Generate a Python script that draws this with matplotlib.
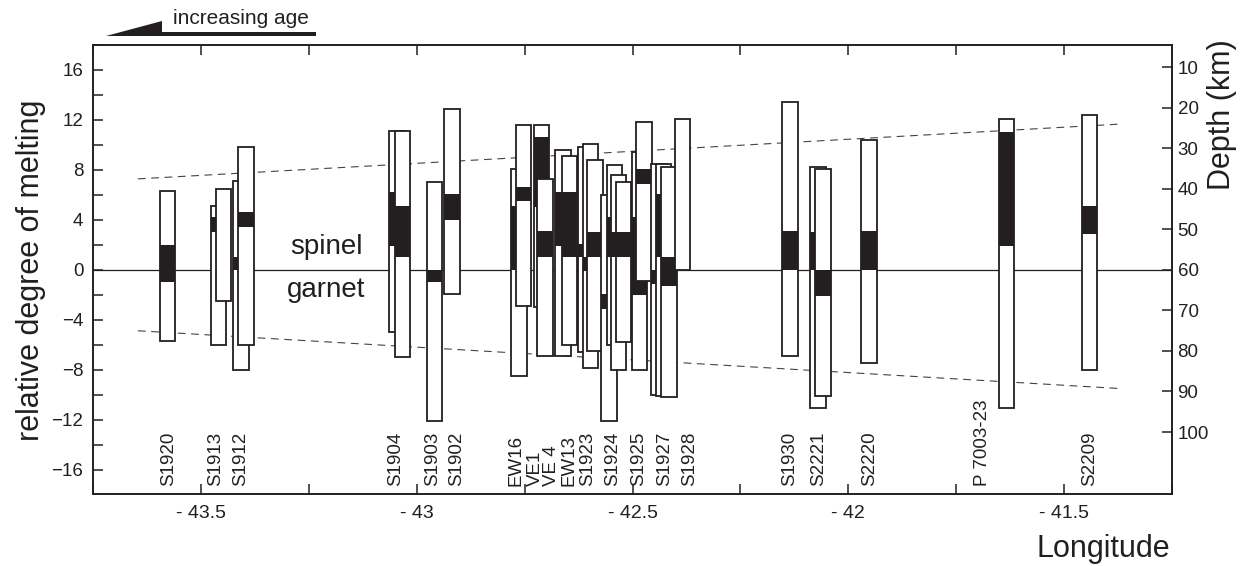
import numpy as np
import matplotlib
matplotlib.use('Agg')
import matplotlib.pyplot as plt
from matplotlib.patches import Polygon
from matplotlib.ticker import MultipleLocator, FuncFormatter

plt.rcParams['font.family'] = ['Liberation Sans', 'DejaVu Sans']

# bars: longitude, full range (top/bottom) and black segment (top/bottom)
lon = [-43.577, -43.459, -43.448, -43.407, -43.396,
       -43.046, -43.033, -42.959, -42.918,
       -42.763, -42.753, -42.711, -42.703, -42.661, -42.646,
       -42.609, -42.597, -42.587, -42.554, -42.542, -42.532, -42.521,
       -42.484, -42.473, -42.439, -42.428, -42.415, -42.384,
       -42.135, -42.070, -42.058, -41.952, -41.633, -41.441]
bar_top = [6.3, 5.1, 6.5, 7.1, 9.8,
           11.1, 11.1, 7.0, 12.9,
           8.1, 11.6, 11.6, 7.3, 9.6, 9.1,
           9.8, 10.1, 8.8, 6.0, 8.4, 7.6, 7.0,
           9.4, 11.8, 8.5, 8.5, 8.2, 12.1,
           13.4, 8.2, 8.1, 10.4, 12.1, 12.4]
bar_bot = [-5.7, -6.0, -2.5, -8.0, -6.0,
           -5.0, -7.0, -12.1, -1.9,
           -8.5, -2.9, -3.0, -6.9, -6.9, -6.0,
           -6.6, -7.9, -6.5, -12.1, -6.0, -8.0, -5.8,
           -8.0, -0.9, -10.0, -10.1, -10.2, 0.0,
           -6.9, -11.1, -10.1, -7.5, -11.1, -8.0]
blk_top = [2.0, 4.2, np.nan, 1.0, 4.6,
           6.2, 5.1, 0.0, 6.1,
           5.1, 6.6, 10.6, 3.1, 6.2, 6.2,
           2.1, 1.0, 3.0, -1.9, 4.2, 3.0, 3.0,
           4.2, 8.1, 0.0, 6.1, 1.0, np.nan,
           3.1, 3.0, 0.0, 3.1, 11.0, 5.1]
blk_bot = [-1.0, 3.0, np.nan, 0.0, 3.4,
           1.9, 1.0, -1.0, 4.0,
           0.0, 5.5, 5.0, 1.0, 1.9, 1.0,
           1.0, -0.1, 1.0, -3.1, 1.0, 1.0, 1.0,
           -2.0, 6.9, -1.1, 1.0, -1.3, np.nan,
           0.0, 0.0, -2.1, 0.0, 1.9, 2.9]

# sample names along the bottom
names = ['S1920', 'S1913', 'S1912', 'S1904', 'S1903', 'S1902',
         'EW16', 'VE1', 'VE 4', 'EW13', 'S1923', 'S1924', 'S1925',
         'S1927', 'S1928', 'S1930', 'S2221', 'S2220', 'P 7003-23', 'S2209']
name_lon = [-43.574, -43.465, -43.409, -43.048, -42.962, -42.907,
            -42.770, -42.726, -42.687, -42.647, -42.603, -42.545, -42.487,
            -42.425, -42.367, -42.135, -42.068, -41.950, -41.688, -41.440]

# dashed envelope lines
env_lon = [-43.646, -41.364]
env_upper = [7.28, 11.68]
env_lower = [-4.88, -9.52]

depth_at_zero = 60.0   # km at the spinel/garnet line
km_per_unit = 3.08
depth_ticks = [10, 20, 30, 40, 50, 60, 70, 80, 90, 100]

dark = '#231f20'
W, H = 1241, 566
fig = plt.figure(figsize=(W/100., H/100.), dpi=100)
ax = fig.add_axes([93./W, 1-494./H, (1172-93.)/W, (494-45.)/H])
ax.set_xlim(-43.75, -41.25)
ax.set_ylim(-17.95, 18.0)

ax.axhline(0, color=dark, linewidth=0.9, zorder=1)
ax.plot(env_lon, env_upper, color='#444444', linewidth=0.8, dashes=(7, 5), zorder=1)
ax.plot(env_lon, env_lower, color='#444444', linewidth=0.8, dashes=(7, 5), zorder=1)

bw = 0.036
for i in range(len(lon)):
    z = 2 + i*0.01
    h = bar_top[i] - bar_bot[i]
    ax.bar(lon[i], h, bottom=bar_bot[i], width=bw, color='white', linewidth=0, zorder=z)
    if not np.isnan(blk_top[i]):
        ax.bar(lon[i], blk_top[i]-blk_bot[i], bottom=blk_bot[i], width=bw, color=dark,
               linewidth=0, zorder=z+0.003)
    ax.bar(lon[i], h, bottom=bar_bot[i], width=bw, fill=False, edgecolor=dark,
           linewidth=1.3, zorder=z+0.006)

for n, x in zip(names, name_lon):
    ax.text(x, -17.3, n, rotation=90, ha='center', va='bottom', fontsize=13.5, color=dark)

ax.text(-43.21, 1.8, 'spinel', fontsize=20, ha='center', va='center', color=dark)
ax.text(-43.21, -1.6, 'garnet', fontsize=20, ha='center', va='center', color=dark)

ax.xaxis.set_major_locator(MultipleLocator(0.5))
ax.xaxis.set_minor_locator(MultipleLocator(0.25))
ax.xaxis.set_major_formatter(FuncFormatter(lambda v, p: '- %g' % abs(v)))
ax.yaxis.set_major_locator(MultipleLocator(4))
ax.yaxis.set_minor_locator(MultipleLocator(2))
ax.tick_params(which='both', direction='in', length=7, width=1.1, top=True, right=False,
               colors=dark)
ax.tick_params(axis='x', labelsize=14, pad=8)
ax.tick_params(axis='y', labelsize=13.5, pad=7)
for s in ax.spines.values():
    s.set_linewidth(1.2)
    s.set_color(dark)

ax2 = ax.twinx()
ax2.set_ylim(depth_at_zero + 17.95*km_per_unit, depth_at_zero - 18.0*km_per_unit)
ax2.set_yticks(depth_ticks)
ax2.tick_params(direction='in', length=7, width=1.1, labelsize=13.5, pad=4, colors=dark)
for s in ax2.spines.values():
    s.set_linewidth(1.2)
    s.set_color(dark)

fig.text(31./W, 1-270./H, 'relative degree of melting', rotation=90, fontsize=22,
         ha='center', va='center', color=dark)
fig.text(1222./W, 1-115./H, 'Depth (km)', rotation=90, fontsize=22,
         ha='center', va='center', color=dark)
fig.text(1170./W, 1-549./H, 'Longitude', fontsize=22, ha='right', va='center', color=dark)

# increasing age wedge arrow
pts = [(106, 36), (162, 21), (162, 32), (316, 32), (316, 36)]
fig.patches.append(Polygon([(px/W, 1-py/H) for px, py in pts], closed=True,
                           facecolor=dark, edgecolor='none', transform=fig.transFigure))
fig.text(241./W, 1-18./H, 'increasing age', fontsize=15, ha='center', va='center', color=dark)

fig.savefig('out.png', dpi=100)
